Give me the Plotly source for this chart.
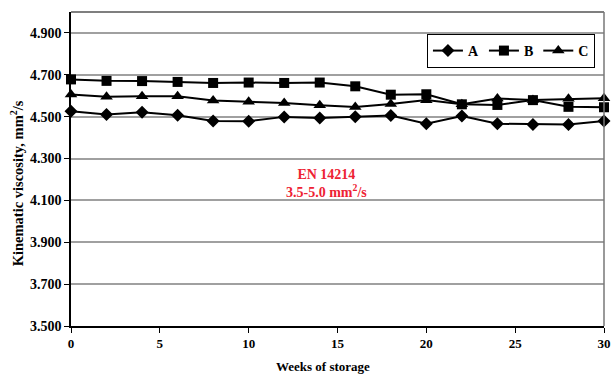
import plotly.graph_objects as go

weeks = [0, 2, 4, 6, 8, 10, 12, 14, 16, 18, 20, 22, 24, 26, 28, 30]
series_a = [4.526, 4.510, 4.521, 4.507, 4.479, 4.478, 4.499, 4.494,
            4.500, 4.505, 4.466, 4.503, 4.466, 4.463, 4.463, 4.479]
series_b = [4.678, 4.671, 4.670, 4.666, 4.661, 4.663, 4.661, 4.663,
            4.645, 4.605, 4.607, 4.559, 4.556, 4.579, 4.547, 4.545]
series_c = [4.606, 4.595, 4.597, 4.597, 4.577, 4.571, 4.565, 4.555,
            4.546, 4.560, 4.579, 4.559, 4.587, 4.580, 4.585, 4.588]
y_ticks = [3.5, 3.7, 3.9, 4.1, 4.3, 4.5, 4.7, 4.9]
y_tick_text = ["3.500", "3.700", "3.900", "4.100", "4.300", "4.500", "4.700", "4.900"]
x_ticks = [0, 5, 10, 15, 20, 25, 30]

font_family = "Liberation Serif, Times New Roman, serif"

fig = go.Figure()
for name, vals, sym, size in [("A", series_a, "diamond", 10),
                              ("B", series_b, "square", 10),
                              ("C", series_c, "triangle-up", 11)]:
    fig.add_trace(go.Scatter(
        x=weeks, y=vals, name=name, mode="lines+markers",
        line=dict(color="black", width=2),
        marker=dict(symbol=sym, size=size, color="black"),
        cliponaxis=False,
    ))

fig.update_layout(
    width=614, height=374,
    margin=dict(l=71, r=10, t=12, b=48, autoexpand=False),
    paper_bgcolor="white", plot_bgcolor="white",
    font=dict(family=font_family, size=13, color="black"),
    showlegend=True,
    legend=dict(
        orientation="h", x=0.983, xanchor="right", y=0.93, yanchor="top",
        bordercolor="black", borderwidth=1, bgcolor="white",
        font=dict(family=font_family, size=14, color="black", weight="bold"),
        itemwidth=30, tracegroupgap=0,
    ),
    xaxis=dict(
        range=[0, 30], tickvals=x_ticks, showgrid=False, zeroline=False,
        showline=True, linecolor="black", linewidth=1.5,
        ticks="outside", ticklen=5, tickcolor="black", automargin=False,
        tickfont=dict(family=font_family, size=13, weight="bold"),
    ),
    yaxis=dict(
        range=[3.5, 5.0], tickvals=y_ticks, ticktext=y_tick_text,
        showgrid=True, gridcolor="#a0a0a0", gridwidth=1.5, zeroline=False,
        showline=True, linecolor="black", linewidth=1.5,
        ticks="outside", ticklen=5, tickcolor="black", automargin=False,
        tickfont=dict(family=font_family, size=14, weight="bold"),
    ),
    shapes=[
        dict(type="line", xref="paper", yref="paper", x0=0, x1=1, y0=1, y1=1,
             line=dict(color="#555555", width=1.5)),
        dict(type="line", xref="paper", yref="paper", x0=1, x1=1, y0=0, y1=1,
             line=dict(color="#777777", width=1.5)),
    ],
    annotations=[
        dict(x=14.4, y=4.18, xref="x", yref="y",
             text="EN 14214<br>3.5-5.0 mm<sup>2</sup>/s", showarrow=False,
             font=dict(family=font_family, size=14, color="#ee2233", weight="bold"),
             align="center"),
        dict(x=-0.101, y=0.455, xref="paper", yref="paper", textangle=-90,
             text="Kinematic viscosity, mm<sup>2</sup>/s", showarrow=False,
             xanchor="center", yanchor="middle",
             font=dict(family=font_family, size=14.5, color="black", weight="bold")),
        dict(x=0.473, y=-0.128, xref="paper", yref="paper",
             text="Weeks of storage", showarrow=False,
             xanchor="center", yanchor="middle",
             font=dict(family=font_family, size=13, color="black", weight="bold")),
    ],
)

fig.write_html("out.html", config={"displayModeBar": False},
               post_script="document.body.style.margin='0';document.body.style.overflow='hidden';")
